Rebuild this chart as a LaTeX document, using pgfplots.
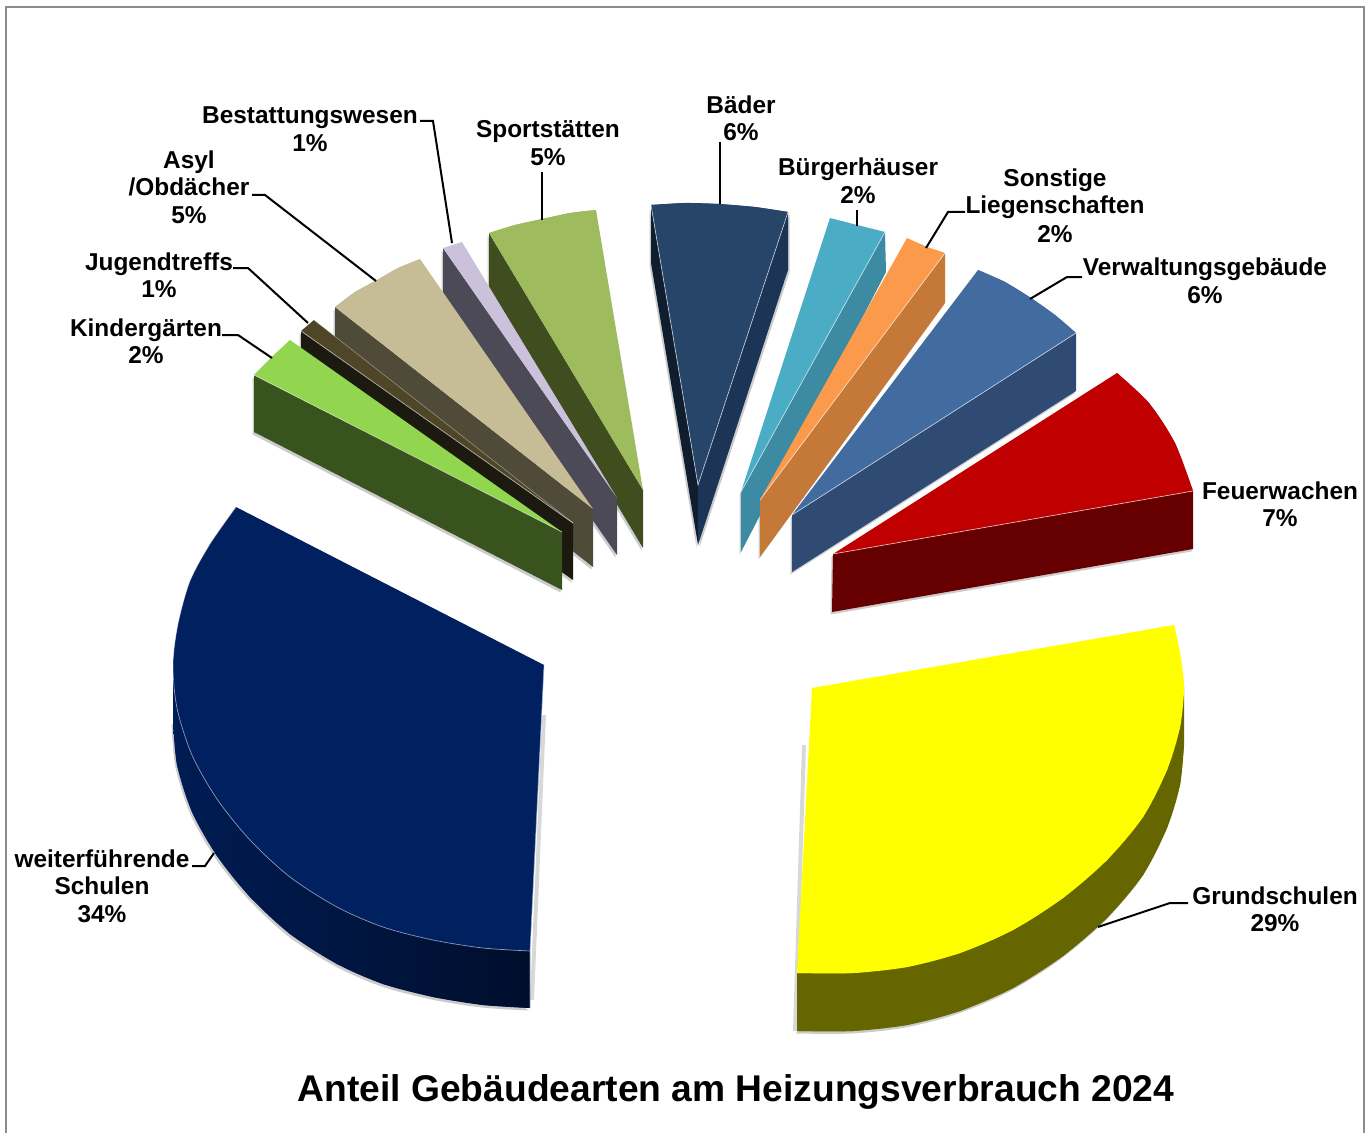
\documentclass[border=0pt]{standalone}
\usepackage{pgfplots}
\pgfplotsset{compat=1.18}
\usepackage{pgfplotstable}
\usepackage{fontspec}
\setmainfont{Liberation Sans}
\definecolor{frameg}{HTML}{8C8C8C}
\definecolor{cS}{RGB}{158,187,94}\definecolor{cSs}{RGB}{63,77,31}
\definecolor{cB}{RGB}{204,193,218}\definecolor{cBs}{RGB}{77,74,87}
\definecolor{cA}{RGB}{198,189,151}\definecolor{cAs}{RGB}{79,75,56}
\definecolor{cJ}{RGB}{79,70,40}\definecolor{cJs}{RGB}{28,26,16}
\definecolor{cK}{RGB}{146,214,80}\definecolor{cKs}{RGB}{56,83,30}
\definecolor{cD}{RGB}{38,69,105}\definecolor{cDl}{RGB}{16,29,46}\definecolor{cDr}{RGB}{28,53,87}
\definecolor{cP}{RGB}{75,172,198}\definecolor{cPs}{RGB}{61,139,162}
\definecolor{cO}{RGB}{251,154,74}\definecolor{cOs}{RGB}{196,121,56}
\definecolor{cV}{RGB}{66,107,160}\definecolor{cVs}{RGB}{47,75,115}
\definecolor{cF}{RGB}{192,0,0}\definecolor{cFs}{RGB}{102,0,0}
\definecolor{cG}{RGB}{255,255,0}\definecolor{cGs}{RGB}{102,102,0}
\definecolor{cW}{RGB}{0,32,96}\definecolor{cWl}{RGB}{0,28,84}\definecolor{cWr}{RGB}{0,14,44}
\tikzset{
  poly/.style={draw=none},
  arcfill/.style={draw=none,smooth},
  shad/.style={draw=none,fill=gray,opacity=.4,xshift=-1.5pt,yshift=-2.5pt},
  edgeline/.style={draw=white,opacity=.65,line width=.7pt},
  lead/.style={draw=black,line width=2pt},
  lab/.style={font=\fontsize{24.4}{26}\selectfont\bfseries,inner sep=0pt,anchor=base,text=black}}
\pgfplotstableread{
x y
236 507
210 544
190 581
178 624
173 664
177 708
192 755
217 799
250 840
290 877
337 907
383 927
433 940
483 948
530 951
}\TWarc
\pgfplotstableread{
x y
173 721
177 765
192 812
217 856
250 897
290 934
337 964
383 984
433 997
483 1005
530 1008
}\TWlow
\pgfplotstableread{
x y
173 664
177 708
192 755
217 799
250 840
290 877
337 907
383 927
433 940
483 948
530 951
530 1008
483 1005
433 997
383 984
337 964
290 934
250 897
217 856
192 812
177 765
173 721
}\TWside
\pgfplotstableread{
x y
236 507
210 544
190 581
178 624
173 664
177 708
192 755
217 799
250 840
290 877
337 907
383 927
433 940
483 948
530 951
544 665
}\TWtop
\pgfplotstableread{
x y
1174 625
1180 653
1184 687
1180 727
1167 770
1143 817
1107 860
1063 898
1013 930
960 953
907 967
853 973
797 973
}\TGarc
\pgfplotstableread{
x y
812 688
1174 625
1180 653
1184 687
1180 727
1167 770
1143 817
1107 860
1063 898
1013 930
960 953
907 967
853 973
797 973
}\TGtop
\pgfplotstableread{
x y
1184 745
1180 785
1167 828
1143 875
1107 918
1063 956
1013 988
960 1011
907 1025
853 1031
797 1031
}\TGlow
\pgfplotstableread{
x y
1184 687
1184 745
1180 785
1167 828
1143 875
1107 918
1063 956
1013 988
960 1011
907 1025
853 1031
797 1031
797 973
853 973
907 967
960 953
1013 930
1063 898
1107 860
1143 817
1167 770
1180 727
}\TGside
\pgfplotstableread{
x y
254 375
272 357
290 340
}\TKarc
\pgfplotstableread{
x y
254 375
272 357
290 340
562 532
}\TKtop
\pgfplotstableread{
x y
254 375
562 532
562 590
254 432
}\TKside
\pgfplotstableread{
x y
301 331
314 320
573 523
}\TJtop
\pgfplotstableread{
x y
301 331
573 523
573 580
301 388
}\TJside
\pgfplotstableread{
x y
335 307
355 292
377 280
398 268
420 259
}\TAarc
\pgfplotstableread{
x y
335 307
355 292
377 280
398 268
420 259
593 509
}\TAtop
\pgfplotstableread{
x y
335 307
593 509
593 567
335 364
}\TAside
\pgfplotstableread{
x y
443 248
462 242
617 498
}\TBtop
\pgfplotstableread{
x y
443 248
617 498
617 555
443 305
}\TBside
\pgfplotstableread{
x y
489 233
515 225
542 219
570 213
596 210
}\TSarc
\pgfplotstableread{
x y
489 233
515 225
542 219
570 213
596 210
643 490
}\TStop
\pgfplotstableread{
x y
489 233
643 490
643 548
489 290
}\TSside
\pgfplotstableread{
x y
651 205
685 203
719 204
755 207
788 212
}\TDarc
\pgfplotstableread{
x y
651 205
685 203
719 204
755 207
788 212
698 485
}\TDtop
\pgfplotstableread{
x y
651 205
698 485
698 545
651 263
}\TDsl
\pgfplotstableread{
x y
788 212
698 485
698 545
788 270
}\TDsr
\pgfplotstableread{
x y
830 218
857 225
885 232
741 492
}\TPtop
\pgfplotstableread{
x y
885 232
741 492
741 552
886 272
}\TPside
\pgfplotstableread{
x y
907 238
927 247
945 253
760 500
}\TOtop
\pgfplotstableread{
x y
945 253
760 500
760 557
945 303
}\TOside
\pgfplotstableread{
x y
978 270
1005 282
1031 298
1055 315
1076 333
}\TVarc
\pgfplotstableread{
x y
978 270
1005 282
1031 298
1055 315
1076 333
792 515
}\TVtop
\pgfplotstableread{
x y
1076 333
792 515
792 572
1076 391
}\TVside
\pgfplotstableread{
x y
1117 373
1149 403
1175 443
1193 491
}\TFarc
\pgfplotstableread{
x y
1117 373
1149 403
1175 443
1193 491
833 554
}\TFtop
\pgfplotstableread{
x y
833 554
1193 491
1193 549
832 612
}\TFside
\begin{document}
\begin{tikzpicture}
\begin{axis}[width=1371pt,height=1133pt,scale only axis,xmin=0,xmax=1371,ymin=0,ymax=1133,y dir=reverse,hide axis,clip=false,no markers]
\addplot[draw=none,fill=white] coordinates {(0,0)(1371,0)(1371,1133)(0,1133)} -- cycle;
\addplot[draw=frameg,line width=2.2pt] coordinates {(6,1133)(6,7)(1364,7)(1364,1133)};
% shadows
\addplot[shad] table {\TJside} -- cycle;
\addplot[shad] table {\TAside} -- cycle;
\addplot[shad] table {\TBside} -- cycle;
\addplot[shad] table {\TSside} -- cycle;
\addplot[shad] table {\TDsl} -- cycle;
\addplot[shad,xshift=3pt] table {\TDsr} -- cycle;
\addplot[shad] table {\TPside} -- cycle;
\addplot[shad] table {\TOside} -- cycle;
\addplot[shad] table {\TVside} -- cycle;
\addplot[shad] table {\TFside} -- cycle;
\addplot[shad] table {\TKside} -- cycle;
\addplot[shad,smooth] table {\TGlow};
\addplot[shad,smooth] table {\TWlow};
\addplot[draw=none,fill=gray,opacity=.3] coordinates {(542,715)(546,715)(534,1000)(530,1000)} -- cycle;
\addplot[draw=none,fill=gray,opacity=.3] coordinates {(806,745)(802,745)(793,1031)(797,1031)} -- cycle;
% Sport
\addplot[poly,fill=cSs] table {\TSside} -- cycle;
\addplot[poly,fill=cS] table {\TStop} -- cycle;
\addplot[arcfill,fill=cS] table {\TSarc};
% Bestattung
\addplot[poly,fill=cBs] table {\TBside} -- cycle;
\addplot[poly,fill=cB] table {\TBtop} -- cycle;
% Asyl
\addplot[poly,fill=cAs] table {\TAside} -- cycle;
\addplot[poly,fill=cA] table {\TAtop} -- cycle;
\addplot[arcfill,fill=cA] table {\TAarc};
% Jugendtreffs
\addplot[poly,fill=cJs] table {\TJside} -- cycle;
\addplot[poly,fill=cJ] table {\TJtop} -- cycle;
\addplot[draw=white,opacity=.6,line width=.7pt] coordinates {(301,331)(573,523)};
\addplot[draw=white,opacity=.4,line width=.6pt] coordinates {(314,320)(573,523)};
% Kinder
\addplot[poly,fill=cKs] table {\TKside} -- cycle;
\addplot[poly,fill=cK] table {\TKtop} -- cycle;
\addplot[arcfill,fill=cK] table {\TKarc};
\addplot[draw=white,opacity=.5,line width=.7pt] coordinates {(254,375)(562,532)};
% Baeder
\addplot[poly,fill=cDl] table {\TDsl} -- cycle;
\addplot[poly,fill=cDr] table {\TDsr} -- cycle;
\addplot[poly,fill=cD] table {\TDtop} -- cycle;
\addplot[arcfill,fill=cD] table {\TDarc};
\addplot[edgeline] coordinates {(651,205)(698,485)(788,212)};
% Buerger
\addplot[poly,fill=cPs] table {\TPside} -- cycle;
\addplot[poly,fill=cP] table {\TPtop} -- cycle;
\addplot[edgeline] coordinates {(885,232)(741,492)};
% Sonstige
\addplot[poly,fill=cOs] table {\TOside} -- cycle;
\addplot[poly,fill=cO] table {\TOtop} -- cycle;
\addplot[edgeline] coordinates {(945,253)(760,500)};
% Verwaltung
\addplot[poly,fill=cVs] table {\TVside} -- cycle;
\addplot[poly,fill=cV] table {\TVtop} -- cycle;
\addplot[arcfill,fill=cV] table {\TVarc};
\addplot[edgeline] coordinates {(1076,333)(792,515)};
% Feuerwachen
\addplot[poly,fill=cFs] table {\TFside} -- cycle;
\addplot[poly,fill=cF] table {\TFtop} -- cycle;
\addplot[arcfill,fill=cF] table {\TFarc};
\addplot[edgeline] coordinates {(833,554)(1193,491)};
% Grundschulen
\addplot[poly,fill=cGs] table {\TGside} -- cycle;
\addplot[arcfill,fill=cGs] table {\TGlow};
\addplot[poly,fill=cG] table {\TGtop} -- cycle;
\addplot[arcfill,fill=cG] table {\TGarc};
% weiterfuehrende
\addplot[draw=none,left color=cWl,right color=cWr] table {\TWside} -- cycle;
\addplot[arcfill,left color=cWl,right color=cWr] table {\TWlow};
\addplot[poly,fill=cW] table {\TWtop} -- cycle;
\addplot[arcfill,fill=cW] table {\TWarc};
\addplot[edgeline,smooth,opacity=.55] table {\TWarc};
\addplot[draw={rgb,255:red,150;green,175;blue,215},opacity=.7,line width=.7pt] coordinates {(544,665)(530,951)(530,1008)};
% leaders
\addplot[lead] coordinates {(420,121)(433,121)(452,243)};
\addplot[lead] coordinates {(542,172)(542,220)};
\addplot[lead] coordinates {(720,142)(720,204)};
\addplot[lead] coordinates {(857,210)(857,226)};
\addplot[lead] coordinates {(965,212)(948,212)(926,248)};
\addplot[lead] coordinates {(1082,277)(1067,277)(1030,299)};
\addplot[lead] coordinates {(1188,903)(1170,903)(1098,927)};
\addplot[lead] coordinates {(192,866)(205,866)(214,853)};
\addplot[lead] coordinates {(222,335)(238,335)(272,358)};
\addplot[lead] coordinates {(233,268)(248,268)(308,323)};
\addplot[lead] coordinates {(252,195)(265,195)(376,281)};
% labels
\node[lab] at (axis cs:310,124) {Bestattungswesen};
\node[lab] at (axis cs:310,152) {1\%};
\node[lab] at (axis cs:548,138) {Sportstätten};
\node[lab] at (axis cs:548,166) {5\%};
\node[lab] at (axis cs:741,114) {Bäder};
\node[lab] at (axis cs:741,141) {6\%};
\node[lab] at (axis cs:858,176) {Bürgerhäuser};
\node[lab] at (axis cs:858,204) {2\%};
\node[lab] at (axis cs:1055,187) {Sonstige};
\node[lab] at (axis cs:1055,214) {Liegenschaften};
\node[lab] at (axis cs:1055,243) {2\%};
\node[lab] at (axis cs:1205,276) {Verwaltungsgebäude};
\node[lab] at (axis cs:1205,303) {6\%};
\node[lab] at (axis cs:1280,499) {Feuerwachen};
\node[lab] at (axis cs:1280,526) {7\%};
\node[lab] at (axis cs:1275,904) {Grundschulen};
\node[lab] at (axis cs:1275,931) {29\%};
\node[lab] at (axis cs:102,867) {weiterführende};
\node[lab] at (axis cs:102,894) {Schulen};
\node[lab] at (axis cs:102,922) {34\%};
\node[lab] at (axis cs:146,336) {Kindergärten};
\node[lab] at (axis cs:146,363) {2\%};
\node[lab] at (axis cs:159,270) {Jugendtreffs};
\node[lab] at (axis cs:159,298) {1\%};
\node[lab] at (axis cs:189,169) {Asyl};
\node[lab] at (axis cs:189,196) {/Obdächer};
\node[lab] at (axis cs:189,224) {5\%};
\node[font=\fontsize{37.2}{40}\selectfont\bfseries,inner sep=0pt,anchor=base] at (axis cs:736,1101) {Anteil Gebäudearten am Heizungsverbrauch 2024};
\end{axis}
\end{tikzpicture}
\end{document}
